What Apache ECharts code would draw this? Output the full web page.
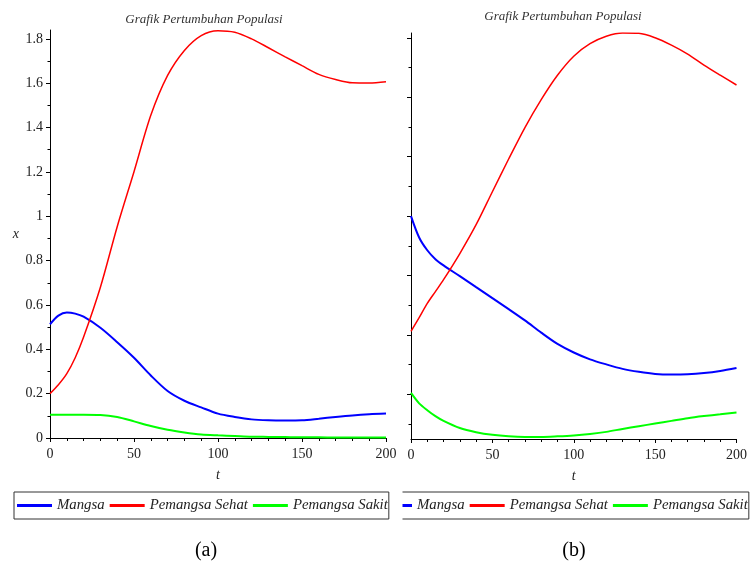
<!DOCTYPE html>
<html><head><meta charset="utf-8">
<script src="https://cdn.jsdelivr.net/npm/echarts@6/dist/echarts.min.js"></script>
<style>html,body{margin:0;padding:0;background:#fff}#c{width:750px;height:565px}</style>
</head><body><div id="c"></div>
<script>
// time samples (t)
const tValues = [0,5,10,15,20,30,40,50,60,70,80,90,100,110,120,130,140,150,160,170,180,190,200];
// panel (a)
const mangsaA = [0.513,0.552,0.566,0.561,0.547,0.497,0.432,0.362,0.282,0.212,0.168,0.138,0.110,0.095,0.084,0.080,0.079,0.080,0.087,0.095,0.102,0.107,0.110];
const sehatA  = [0.200,0.240,0.290,0.362,0.455,0.680,0.953,1.201,1.455,1.635,1.748,1.815,1.837,1.830,1.800,1.760,1.719,1.679,1.640,1.617,1.602,1.601,1.607];
const sakitA  = [0.105,0.105,0.105,0.105,0.105,0.104,0.095,0.075,0.054,0.037,0.025,0.016,0.012,0.009,0.006,0.005,0.004,0.003,0.003,0.002,0.002,0.002,0.002];
// panel (b)
const mangsaB = [1.000,0.928,0.885,0.855,0.834,0.798,0.761,0.724,0.687,0.649,0.608,0.570,0.541,0.518,0.501,0.486,0.476,0.469,0.467,0.468,0.472,0.479,0.489];
const sehatB  = [0.612,0.658,0.706,0.746,0.786,0.874,0.971,1.082,1.192,1.298,1.392,1.474,1.538,1.580,1.605,1.616,1.615,1.600,1.575,1.545,1.508,1.474,1.441];
const sakitB  = [0.405,0.370,0.347,0.327,0.311,0.287,0.273,0.264,0.259,0.257,0.257,0.259,0.262,0.267,0.274,0.284,0.293,0.302,0.311,0.320,0.327,0.333,0.339];
// tick values
const yMajorA = [0,0.2,0.4,0.6,0.8,1,1.2,1.4,1.6,1.8];
const yMinorA = [0.1,0.3,0.5,0.7,0.9,1.1,1.3,1.5,1.7];
const yMajorB = [0.4,0.6,0.8,1,1.2,1.4,1.6];
const yMinorB = [0.3,0.5,0.7,0.9,1.1,1.3,1.5];
const seriesNames = ['Mangsa','Pemangsa Sehat','Pemangsa Sakit'];
const panelTitle = 'Grafik Pertumbuhan Populasi';

const SERIF = 'Liberation Serif';
const colors = ['#0000ff','#ff0000','#00ff00'];
const widths = [2,1.5,2];
const pairs = arr => tValues.map((t,i)=>[t,arr[i]]);

function xAxis(g){
  return {gridIndex:g,type:'value',min:0,max:200,interval:50,
    axisLine:{show:true,onZero:false,lineStyle:{color:'#000',width:1}},
    axisTick:{show:true,length:4,lineStyle:{color:'#000'}},
    minorTick:{show:true,splitNumber:5,length:3,lineStyle:{color:'#000'}},
    axisLabel:{margin:9,fontFamily:SERIF,fontSize:14,color:'#222'},
    splitLine:{show:false},minorSplitLine:{show:false},
    name:'t',nameLocation:'middle',nameGap:30,
    nameTextStyle:{fontFamily:SERIF,fontStyle:'italic',fontSize:14,color:'#222'}};
}
function yMain(g,min,max,majors,showLabel){
  return {gridIndex:g,type:'value',min:min,max:max,position:'left',
    axisLine:{show:true,onZero:false,lineStyle:{color:'#000',width:1}},
    axisTick:{show:true,length:4,customValues:majors,lineStyle:{color:'#000'}},
    axisLabel:{show:showLabel,customValues:majors,margin:7,fontFamily:SERIF,fontSize:14,color:'#222',
      formatter:v=>String(+(+v).toFixed(1))},
    splitLine:{show:false},
    name:showLabel?'x':'',nameLocation:'middle',nameRotate:0,nameGap:31,
    nameTextStyle:{fontFamily:SERIF,fontStyle:'italic',fontSize:14,color:'#222'}};
}
function yMinor(g,min,max,minors){
  return {gridIndex:g,type:'value',min:min,max:max,position:'left',offset:0,
    axisLine:{show:false},
    axisTick:{show:true,length:2.5,customValues:minors,lineStyle:{color:'#000'}},
    axisLabel:{show:false},splitLine:{show:false}};
}
function legend(left,z){
  return {left:left,top:492,z:z,width:380,orient:'horizontal',data:seriesNames,icon:'rect',
    itemWidth:35,itemHeight:3,itemGap:5,padding:[6,1,6,3],
    borderColor:'#333',borderWidth:1,backgroundColor:'transparent',
    textStyle:{fontFamily:SERIF,fontStyle:'italic',fontSize:14.8,color:'#222'},
    selectedMode:false};
}
const dataA=[mangsaA,sehatA,sakitA], dataB=[mangsaB,sehatB,sakitB];
const series=[];
[dataA,dataB].forEach((set,p)=>{
  set.forEach((arr,i)=>{
    series.push({name:seriesNames[i],type:'line',xAxisIndex:p,yAxisIndex:p*2,
      data:pairs(arr),showSymbol:false,smooth:0.3,
      lineStyle:{color:colors[i],width:widths[i]},itemStyle:{color:colors[i]},
      emphasis:{disabled:true},z:2+i});
  });
});

const chart = echarts.init(document.getElementById('c'),null,{renderer:'canvas'});
chart.setOption({
  animation:false,
  backgroundColor:'#fff',
  grid:[{left:50,right:364,top:30,bottom:127},{left:411,right:5,top:33,bottom:126}],
  xAxis:[xAxis(0),xAxis(1)],
  yAxis:[yMain(0,0,1.84,yMajorA,true),yMinor(0,0,1.84,yMinorA),yMain(1,0.25,1.616,yMajorB,false),yMinor(1,0.25,1.616,yMinorB)],
  legend:[legend(14,6),legend(374,2)],
  graphic:[
    {type:'rect',z:4,shape:{x:370,y:486,width:32.5,height:40},style:{fill:'#fff'}},
    {type:'text',z:5,style:{x:204,y:20,text:panelTitle,align:'center',verticalAlign:'middle',font:'italic 13px "Liberation Serif"',fill:'#333'}},
    {type:'text',z:5,style:{x:563,y:17,text:panelTitle,align:'center',verticalAlign:'middle',font:'italic 13px "Liberation Serif"',fill:'#333'}},
    {type:'text',z:5,style:{x:206,y:551,text:'(a)',align:'center',verticalAlign:'middle',font:'20px "Liberation Serif"',fill:'#000'}},
    {type:'text',z:5,style:{x:574,y:551,text:'(b)',align:'center',verticalAlign:'middle',font:'20px "Liberation Serif"',fill:'#000'}}
  ],
  series:series
});
</script></body></html>
